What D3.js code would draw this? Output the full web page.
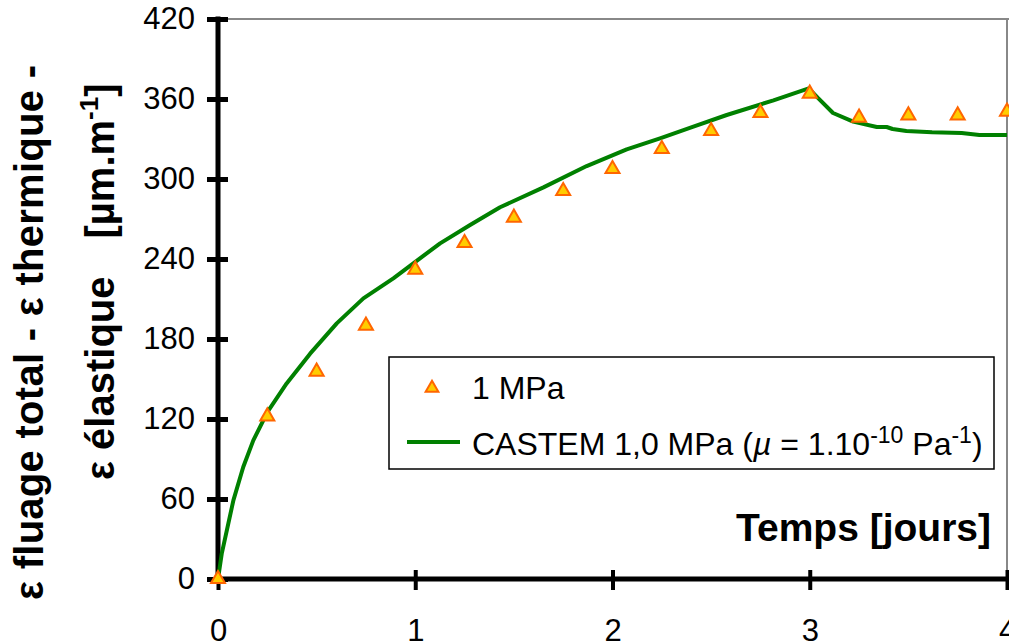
<!DOCTYPE html>
<html><head><meta charset="utf-8">
<script src="https://cdn.jsdelivr.net/npm/d3@7"></script>
<style>
body{margin:0;background:#fff;}
text{font-family:"Liberation Sans",Arial,sans-serif;}
</style></head>
<body>
<svg id="c" width="1009" height="643"></svg>
<script>
// ---- data ----
const xTicks = [0, 1, 2, 3, 4];
const yTicks = [0, 60, 120, 180, 240, 300, 360, 420];
const measTimes = [0, 0.25, 0.5, 0.75, 1, 1.25, 1.5, 1.75, 2, 2.25, 2.5, 2.75, 3, 3.25, 3.5, 3.75, 4];
const measValues = [0, 122, 155.5, 190, 232, 252, 271, 291, 307.5, 322.5, 336, 349.5, 364, 346, 347.7, 347.7, 350.5];
const simTimes = [0, 0.019, 0.078, 0.128, 0.179, 0.252, 0.348, 0.467, 0.602, 0.737, 0.889, 1.024, 1.126, 1.278, 1.43, 1.65, 1.869, 2.072, 2.241, 2.41, 2.579, 2.816, 2.995, 3.04, 3.118, 3.22, 3.34, 3.39, 3.42, 3.49, 3.62, 3.77, 3.86, 4];
const simValues = [0, 19, 59, 84, 104, 125.5, 146.7, 169, 191.7, 210.5, 225.5, 240.5, 251.7, 265.5, 278.8, 293.7, 309.7, 322.2, 330.5, 339.2, 348, 359, 368, 361, 349.5, 343, 339, 339, 337.5, 336, 335, 334.5, 333, 333];
const seriesNames = ["1 MPa", "CASTEM 1,0 MPa"];

const svg = d3.select("#c");
const x = d3.scaleLinear().domain([0, 4]).range([218, 1007]);
const y = d3.scaleLinear().domain([0, 420]).range([579, 19]);

// frame (gray top/right)
svg.append("line").attr("x1", x(0)).attr("x2", 1009).attr("y1", y(420)).attr("y2", y(420))
  .attr("stroke", "#888").attr("stroke-width", 2);
svg.append("line").attr("x1", x(4)).attr("x2", x(4)).attr("y1", y(420)).attr("y2", y(0))
  .attr("stroke", "#888").attr("stroke-width", 2);

// y axis
const ya = svg.append("g").attr("transform", `translate(${x(0)},0)`)
  .call(d3.axisLeft(y).tickValues(yTicks).tickSize(11).tickPadding(12));
ya.select(".domain").remove();
ya.selectAll(".tick line").attr("x1", 10).attr("x2", -11).attr("stroke", "#000").attr("stroke-width", 5);
ya.selectAll(".tick text").attr("font-size", 31).attr("fill", "#000").attr("x", -23);
svg.append("line").attr("x1", x(0)).attr("x2", x(0)).attr("y1", y(420) - 2.5).attr("y2", y(0) + 2.5)
  .attr("stroke", "#000").attr("stroke-width", 5);

// x axis
const xa = svg.append("g").attr("transform", `translate(0,${y(0)})`)
  .call(d3.axisBottom(x).tickValues(xTicks).tickSize(11).tickFormat(d3.format("d")));
xa.select(".domain").remove();
xa.selectAll(".tick line").attr("y1", -9).attr("y2", 11).attr("stroke", "#000").attr("stroke-width", 4);
xa.selectAll(".tick text").attr("font-size", 31).attr("fill", "#000").attr("dy", null).attr("y", 62);
svg.append("line").attr("x1", x(0)).attr("x2", x(4) + 2).attr("y1", y(0)).attr("y2", y(0))
  .attr("stroke", "#000").attr("stroke-width", 5);

// simulated line
const sim = simTimes.map((t, i) => [t, simValues[i]]);
svg.append("path").datum(sim)
  .attr("d", d3.line().x(d => x(d[0])).y(d => y(d[1])))
  .attr("fill", "none").attr("stroke", "#008000").attr("stroke-width", 4).attr("stroke-linejoin", "round");

// measured triangles
const tri = d3.symbol().type(d3.symbolTriangle).size(85);
svg.append("g").selectAll("path").data(measTimes.map((t, i) => [t, measValues[i]])).join("path")
  .attr("d", tri).attr("transform", d => `translate(${x(d[0])},${y(d[1])})`)
  .attr("fill", "#FFCC00").attr("stroke", "#FF6600").attr("stroke-width", 2);

// x axis title
svg.append("text").attr("x", 991).attr("y", 541).attr("text-anchor", "end")
  .attr("font-size", 39).attr("font-weight", "bold").text("Temps [jours]");

// y axis title
svg.append("text").attr("transform", "translate(43,600) rotate(-90)")
  .attr("text-anchor", "start").attr("font-size", 40).attr("font-weight", "bold")
  .attr("textLength", 535).attr("lengthAdjust", "spacing")
  .text("ε fluage total - ε thermique -");
const yt2 = svg.append("text").attr("transform", "translate(114,480) rotate(-90)")
  .attr("text-anchor", "start").attr("font-size", 40).attr("font-weight", "bold");
yt2.append("tspan").text("ε élastique");
yt2.append("tspan").attr("dx", 38).text("[µm.m");
yt2.append("tspan").attr("dy", -16).attr("font-size", 26).text("-1");
yt2.append("tspan").attr("dy", 16).text("]");

// legend
const lg = svg.append("g");
lg.append("rect").attr("x", 389).attr("y", 357).attr("width", 605).attr("height", 112)
  .attr("fill", "#fff").attr("stroke", "#000").attr("stroke-width", 1.5);
lg.append("path").attr("d", d3.symbol().type(d3.symbolTriangle).size(70))
  .attr("transform", "translate(432,388)").attr("fill", "#FFCC00").attr("stroke", "#FF6600").attr("stroke-width", 2);
lg.append("text").attr("x", 472).attr("y", 399).attr("font-size", 32).text(seriesNames[0]);
lg.append("line").attr("x1", 407).attr("x2", 460).attr("y1", 442).attr("y2", 442)
  .attr("stroke", "#008000").attr("stroke-width", 4);
const lt = lg.append("text").attr("x", 472).attr("y", 455).attr("font-size", 32);
lt.append("tspan").text(seriesNames[1] + " (");
lt.append("tspan").attr("font-style", "italic").text("µ");
lt.append("tspan").text(" = 1.10");
lt.append("tspan").attr("dy", -12).attr("font-size", 23).text("-10");
lt.append("tspan").attr("dy", 12).text(" Pa");
lt.append("tspan").attr("dy", -12).attr("font-size", 23).text("-1");
lt.append("tspan").attr("dy", 12).text(")");
</script>
</body></html>
